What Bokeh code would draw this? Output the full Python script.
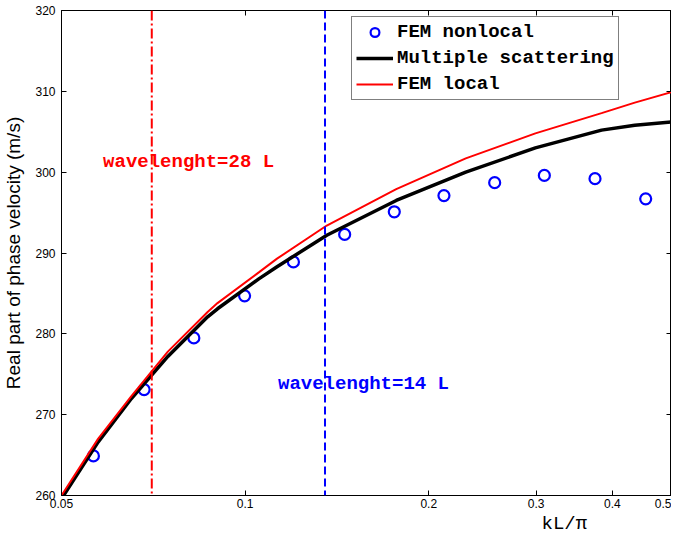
from bokeh.plotting import figure
from bokeh.models import (Span, Label, LogAxis, LinearAxis, FixedTicker,
                          PrintfTickFormatter, Range1d, Title)
from bokeh.embed import file_html
from bokeh.resources import INLINE

# ---------------- data ----------------
x_ticks = [0.05, 0.1, 0.2, 0.3, 0.4, 0.5]
y_ticks = [260, 270, 280, 290, 300, 310, 320]

fem_nonlocal_x = [0.0564, 0.0683, 0.0824, 0.0998, 0.1200, 0.1456,
                  0.1756, 0.2118, 0.2565, 0.3094, 0.3746, 0.4536]
fem_nonlocal_y = [264.9, 273.1, 279.5, 284.7, 288.9, 292.3,
                  295.1, 297.1, 298.7, 299.6, 299.2, 296.7]

curve_x = [0.05, 0.0574, 0.0651, 0.0747, 0.0868, 0.0901, 0.1053, 0.1128,
           0.1361, 0.1769, 0.2300, 0.2991, 0.384, 0.4353, 0.5]
multiple_scattering_y = [259.6, 266.6, 272.0, 277.2, 282.1, 283.1, 286.8, 288.3,
                         292.2, 296.5, 300.0, 303.0, 305.2, 305.8, 306.2]
fem_local_y = [260.0, 267.0, 272.3, 277.8, 282.7, 283.8, 287.6, 289.3,
               293.4, 297.9, 301.7, 304.8, 307.3, 308.6, 309.9]

wavelength_28_x = 0.0703
wavelength_14_x = 0.1352

# ---------------- figure ----------------
p = figure(width=671, height=534, x_axis_type="log",
           x_range=Range1d(0.05, 0.5), y_range=Range1d(260, 320),
           output_backend="svg", toolbar_location=None,
           min_border_left=55, min_border_right=0, min_border_top=10,
           min_border_bottom=38)
p.grid.visible = False
p.outline_line_color = "black"
p.outline_line_width = 1
p.background_fill_color = "white"
p.border_fill_color = "white"

# x axis (bottom)
xa = p.xaxis[0]
xa.ticker = FixedTicker(ticks=x_ticks)
xa.formatter = PrintfTickFormatter(format="%g")
xa.major_tick_in = 5
xa.major_tick_out = 0
xa.minor_tick_in = 0
xa.minor_tick_out = 0
xa.major_label_standoff = 3
xa.major_label_text_font = "Liberation Sans"
xa.major_label_text_font_size = "12px"
xa.major_label_text_color = "black"
xa.axis_line_color = "black"

# y axis (left)
ya = p.yaxis[0]
ya.ticker = FixedTicker(ticks=y_ticks)
ya.major_tick_in = 5
ya.major_tick_out = 0
ya.minor_tick_in = 0
ya.minor_tick_out = 0
ya.major_label_standoff = 6
ya.major_label_text_font = "Liberation Sans"
ya.major_label_text_font_size = "12px"
ya.major_label_text_color = "black"
ya.axis_label = "Real part of phase velocity (m/s)"
ya.axis_label_text_font = "Liberation Sans"
ya.axis_label_text_font_style = "normal"
ya.axis_label_text_font_size = "19px"
ya.axis_label_standoff = 8
ya.axis_label_text_color = "black"

# top and right axes (ticks only, like a MATLAB box)
top = LogAxis(ticker=FixedTicker(ticks=x_ticks[1:-1]),
              major_label_text_font_size="0px", major_label_standoff=0,
              major_tick_in=5, major_tick_out=0, minor_tick_in=0,
              minor_tick_out=0, axis_line_color="black")
right = LinearAxis(ticker=FixedTicker(ticks=y_ticks[1:-1]),
                   major_label_text_font_size="0px", major_label_standoff=0,
                   major_tick_in=5, major_tick_out=0, minor_tick_in=0,
                   minor_tick_out=0, axis_line_color="black")
p.add_layout(top, "above")
p.add_layout(right, "right")

# x axis title, placed right of centre as in the reference
p.add_layout(Title(text="kL/\u03c0", align="left", offset=480, standoff=0,
                   text_font="Liberation Mono", text_font_style="normal",
                   text_font_size="19px", text_color="black"), "below")

# ---------------- glyphs ----------------
p.add_layout(Span(location=wavelength_28_x, dimension="height",
                  line_color="red", line_width=2, line_dash="10 3 2 3"))
p.add_layout(Span(location=wavelength_14_x, dimension="height",
                  line_color="blue", line_width=2, line_dash="8 4"))

p.scatter(fem_nonlocal_x, fem_nonlocal_y, marker="circle", size=11,
          fill_color=None, line_color="blue", line_width=2.2,
          legend_label="FEM nonlocal")
p.line(curve_x, multiple_scattering_y, line_color="black", line_width=3.5,
       legend_label="Multiple scattering")
p.line(curve_x, fem_local_y, line_color="red", line_width=2,
       legend_label="FEM local")

p.add_layout(Label(x=0.0585, y=301.3, text="wavelenght=28 L",
                   text_color="red", text_font="Liberation Mono",
                   text_font_style="bold", text_font_size="19px",
                   text_baseline="middle"))
p.add_layout(Label(x=0.1132, y=273.8, text="wavelenght=14 L",
                   text_color="blue", text_font="Liberation Mono",
                   text_font_style="bold", text_font_size="19px",
                   text_baseline="middle"))

# ---------------- legend ----------------
lg = p.legend[0]
lg.location = (290, 395)
lg.label_text_font = "Liberation Mono"
lg.label_text_font_style = "bold"
lg.label_text_font_size = "19px"
lg.label_text_color = "black"
lg.glyph_width = 37
lg.glyph_height = 22
lg.label_height = 22
lg.label_standoff = 4
lg.padding = 4
lg.spacing = 4
lg.margin = 0
lg.border_line_color = "black"
lg.border_line_width = 1
lg.background_fill_alpha = 1

open("out.html", "w").write(file_html(p, INLINE))
